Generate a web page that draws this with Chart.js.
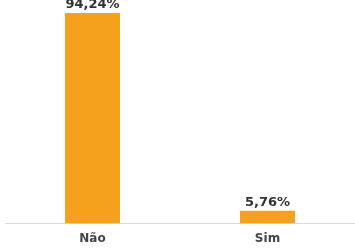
<!DOCTYPE html>
<html>
<head>
<meta charset="utf-8">
<script src="https://cdn.jsdelivr.net/npm/chart.js@4"></script>
<style>
  html, body { margin: 0; padding: 0; background: #fff; }
  #wrap { width: 355px; height: 250px; }
</style>
</head>
<body>
<div id="wrap"><canvas id="c"></canvas></div>
<script>
const categories = ['Não', 'Sim'];
const values     = [94.24, 5.76];
const valueLabels = ['94,24%', '5,76%'];

// Étiquettes au-dessus des barres (pas de plugin datalabels dispo)
const barLabels = {
  id: 'barLabels',
  afterDatasetsDraw(chart) {
    const ctx = chart.ctx;
    const meta = chart.getDatasetMeta(0);
    ctx.save();
    ctx.font = 'bold 13px "DejaVu Sans"';
    ctx.fillStyle = '#333';
    ctx.textAlign = 'center';
    ctx.textBaseline = 'bottom';
    meta.data.forEach((bar, i) => {
      ctx.fillText(valueLabels[i], bar.x, bar.y - 2);
    });
    ctx.restore();
  }
};

new Chart(document.getElementById('c'), {
  type: 'bar',
  data: {
    labels: categories,
    datasets: [{
      data: values,
      backgroundColor: '#F5A11E',
      barPercentage: 0.314,
      categoryPercentage: 1,
    }]
  },
  options: {
    responsive: true,
    maintainAspectRatio: false,
    animation: false,
    layout: { padding: { left: 5, right: 0, top: 0, bottom: -4 } },
    plugins: { legend: { display: false }, tooltip: { enabled: false } },
    scales: {
      x: {
        grid: { display: false, drawTicks: false },
        border: { color: '#dcdcdc', width: 1 },
        ticks: { color: '#444', padding: 8, font: { family: 'DejaVu Sans', size: 12, weight: 'bold' } },
      },
      y: { display: false, min: 0, max: 100 }
    }
  },
  plugins: [barLabels]
});
</script>
</body>
</html>
